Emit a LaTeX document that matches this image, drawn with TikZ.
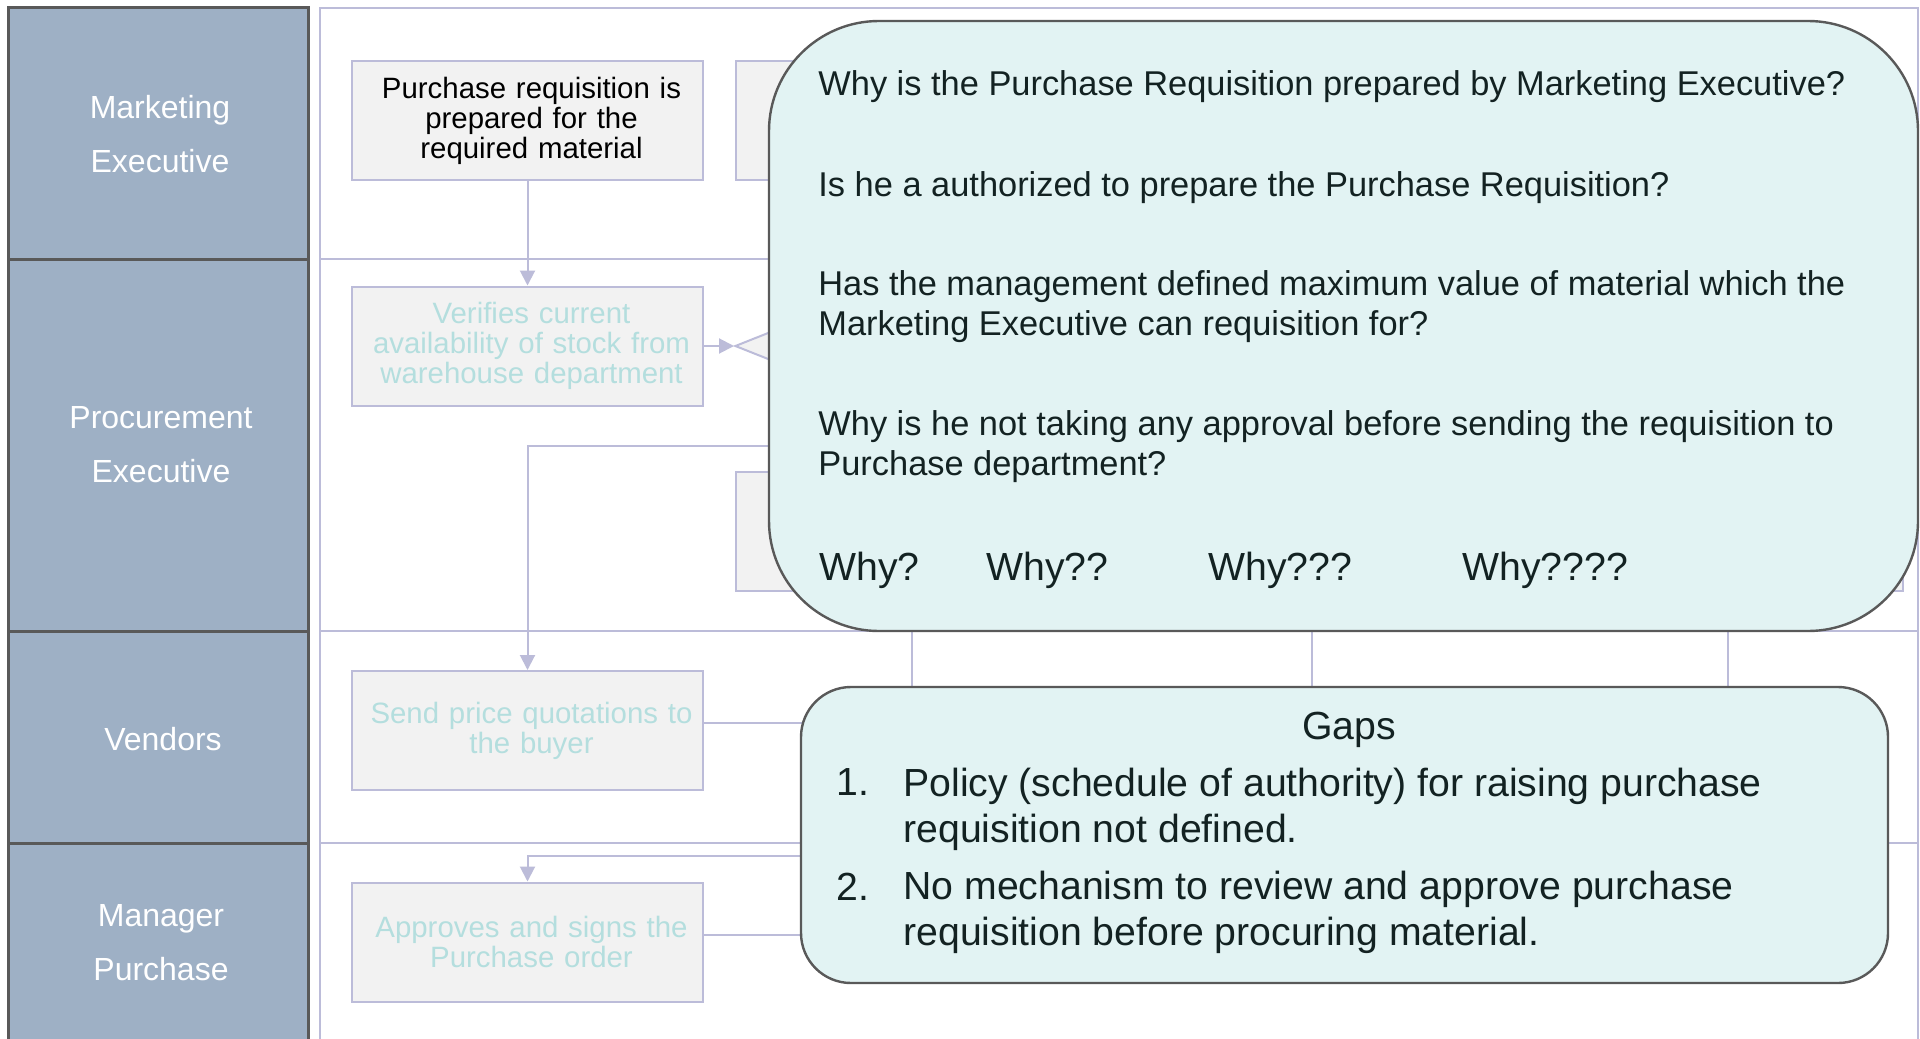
\documentclass[tikz,border=0pt]{standalone}
\usepackage{fontspec}
\setmainfont{Liberation Sans}
\usetikzlibrary{arrows.meta,shapes.geometric}
\definecolor{lanehead}{HTML}{9EB0C5}
\definecolor{laneline}{HTML}{BCBCD9}
\definecolor{hdrline}{HTML}{595959}
\definecolor{boxgray}{HTML}{F2F2F2}
\definecolor{fadetext}{HTML}{B4DEDE}
\definecolor{calloutfill}{HTML}{E2F3F3}
\definecolor{darktext}{HTML}{132222}
\begin{document}
\begin{tikzpicture}[x=0.5pt,y=-0.5pt,
  lanehdr/.style={draw=hdrline,line width=1.5pt,fill=lanehead},
  lanelbl/.style={anchor=base,inner sep=0pt,text=white,align=center,font=\fontsize{16}{27}\selectfont},
  procbox/.style={draw=laneline,line width=1pt,fill=boxgray,minimum width=175.5pt,minimum height=59.5pt,inner sep=0pt,text width=172pt,align=center,font=\fontsize{14.7}{15}\selectfont,execute at begin node={\advance\leftskip by 4pt}},
  faded/.style={procbox,text=fadetext},
  decision/.style={diamond,draw=laneline,line width=1pt,fill=boxgray,minimum width=100pt,minimum height=40pt,inner sep=0pt},
  flow/.style={draw=laneline,line width=1pt},
  arr/.style={flow,-{Triangle[length=7.5pt,width=7.5pt]}},
  callout/.style={draw=hdrline,line width=1.2pt,fill=calloutfill,inner sep=0pt},
  qtext/.style={anchor=base west,inner sep=0pt,text=darktext,align=left,font=\fontsize{17.2}{20}\selectfont},
  gtext/.style={anchor=base west,inner sep=0pt,text=darktext,align=left,font=\fontsize{19.6}{23}\selectfont}]
\useasboundingbox (0,0) rectangle (1920,1038);
\fill[white] (0,0) rectangle (1920,1038);
% swim lanes
\draw[flow] (320,8) rectangle (1918,1080);
\foreach \y in {259,631,843} \draw[flow] (320,\y) -- (1918,\y);
\draw[lanehdr] (8,8) rectangle (308,259);
\draw[lanehdr] (8,259) rectangle (308,631);
\draw[lanehdr] (8,631) rectangle (308,843);
\draw[lanehdr] (8,843) rectangle (308,1080);
\node[lanelbl] (mkt) at (160,172) {Marketing\\Executive};
\node[lanelbl] (proc) at (161,482) {Procurement\\Executive};
\node[lanelbl] (vend) at (163,750) {Vendors};
\node[lanelbl] (mgr) at (161,980) {Manager\\Purchase};
% process steps
\node[procbox] (req) at (527.5,120.5) {Purchase requisition is\\prepared for the\\required material};
\node[faded] (avail) at (527.5,346) {Verifies current\\availability of stock from\\warehouse department};
\node[faded] (quote) at (527.5,730.5) {Send price quotations to\\the buyer};
\node[faded] (po) at (527.5,942) {Approves and signs the\\Purchase order};
\node[procbox] (hidA) at (911.5,120.5) {};
\node[decision] (chk) at (835,346) {};
\node[procbox] (hidB) at (911.5,531) {};
\node[procbox] (hidC) at (1727.5,531) {};
\coordinate (pofrom) at (930,856);
\coordinate (midcol) at (1312,600);
\draw[arr] (req) -- (avail);
\draw[arr] (avail) -- (chk);
\draw[arr] (chk.south) -- ++(0,59) -| (quote.north);
\draw[flow] ([yshift=3.75pt]quote.east) -- ++(150,0);
\draw[arr] (pofrom) -| (po.north);
\draw[flow] ([yshift=3.5pt]po.east) -- ++(150,0);
\draw[flow] (hidB.south) -- ++(0,130);
\draw[flow] (midcol) -- ++(0,120);
\draw[flow] (hidC.south) -- ++(0,130);
% questions
\node[callout,rounded corners=55pt,minimum width=574.5pt,minimum height=305pt] (why) at (1343.5,326) {};
\node[qtext] (q1) at (818,96) {Why is the Purchase Requisition prepared by Marketing Executive?};
\node[qtext] (q2) at (818,196) {Is he a authorized to prepare the Purchase Requisition?};
\node[qtext] (q3) at (818,335) {Has the management defined maximum value of material which the\\Marketing Executive can requisition for?};
\node[qtext] (q4) at (818,475) {Why is he not taking any approval before sending the requisition to\\Purchase department?};
\node[gtext] (w1) at (819,580) {Why?};
\node[gtext] (w2) at (986,580) {Why??};
\node[gtext] (w3) at (1208,580) {Why???};
\node[gtext] (w4) at (1462,580) {Why????};
% gaps
\node[callout,rounded corners=25pt,minimum width=543.5pt,minimum height=148pt] (gaps) at (1344.5,835) {};
\node[gtext,anchor=base] (gh) at (1349,739) {Gaps};
\node[gtext] (n1) at (836,795) {1.};
\node[gtext] (g1) at (903,842) {Policy (schedule of authority) for raising purchase\\requisition not defined.};
\node[gtext] (n2) at (836,900) {2.};
\node[gtext] (g2) at (903,945) {No mechanism to review and approve purchase\\requisition before procuring material.};
\end{tikzpicture}
\end{document}
